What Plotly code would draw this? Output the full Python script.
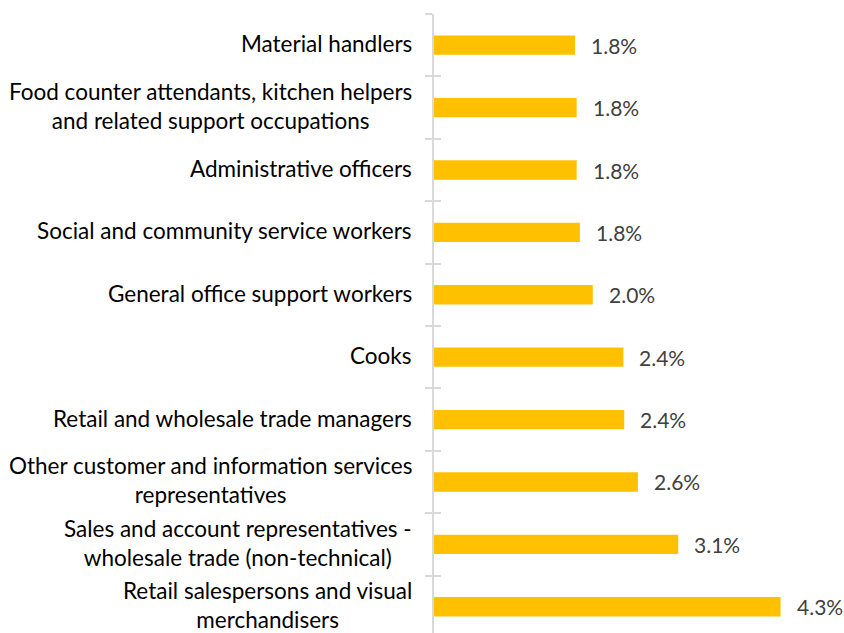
import plotly.graph_objects as go

categories = [
    "Material handlers",
    "Food counter attendants, kitchen helpers<br>and related support occupations",
    "Administrative officers",
    "Social and community service workers",
    "General office support workers",
    "Cooks",
    "Retail and wholesale trade managers",
    "Other customer and information services<br>representatives",
    "Sales and account representatives -<br>wholesale trade (non-technical)",
    "Retail salespersons and visual<br>merchandisers",
]
values = [1.75, 1.77, 1.77, 1.81, 1.97, 2.35, 2.36, 2.53, 3.03, 4.30]
labels = ["1.8%", "1.8%", "1.8%", "1.8%", "2.0%", "2.4%", "2.4%", "2.6%", "3.1%", "4.3%"]

fig = go.Figure()
fig.add_trace(go.Bar(
    x=values, y=categories, orientation="h",
    marker=dict(color="#FFC000", line=dict(width=0)),
    hoverinfo="skip",
))
# dummy trace so the second (inside-tick) axis gets drawn
fig.add_trace(go.Scatter(x=[None] * len(categories), y=categories, yaxis="y2",
                         mode="markers", hoverinfo="skip"))

# value labels to the right of each bar
for c, v, t in zip(categories, values, labels):
    fig.add_annotation(x=v, y=c, text=t, showarrow=False, xanchor="left",
                       xshift=14, font=dict(family="Lato", size=21, color="#404040"))

# category labels, centred multi-line like the source
for c in categories:
    fig.add_annotation(x=0, xref="paper", y=c, text=c, showarrow=False,
                       xanchor="right", align="center", xshift=-20, yshift=1.5,
                       font=dict(family="Lato", size=22.5, color="#000000"))

ycommon = dict(
    type="category", categoryorder="array", categoryarray=categories,
    range=[9.42, -0.5], showticklabels=False,
    tickson="boundaries", tickcolor="#D9D9D9", tickwidth=1.5,
    showgrid=False, zeroline=False,
)

fig.update_layout(
    width=844, height=633,
    margin=dict(l=434, r=10, t=14, b=0, autoexpand=False),
    plot_bgcolor="white", paper_bgcolor="white",
    showlegend=False,
    bargap=0.69,
    xaxis=dict(range=[0, 400 / 80.6], visible=False),
    yaxis=dict(ycommon, showline=True, linecolor="#D9D9D9", linewidth=1.5,
               ticks="outside", ticklen=7),
    yaxis2=dict(ycommon, overlaying="y", anchor="x", side="left",
                showline=False, ticks="inside", ticklen=7),
)

fig.write_html("out.html", config={"displayModeBar": False},
               post_script="document.body.style.margin='0';")
